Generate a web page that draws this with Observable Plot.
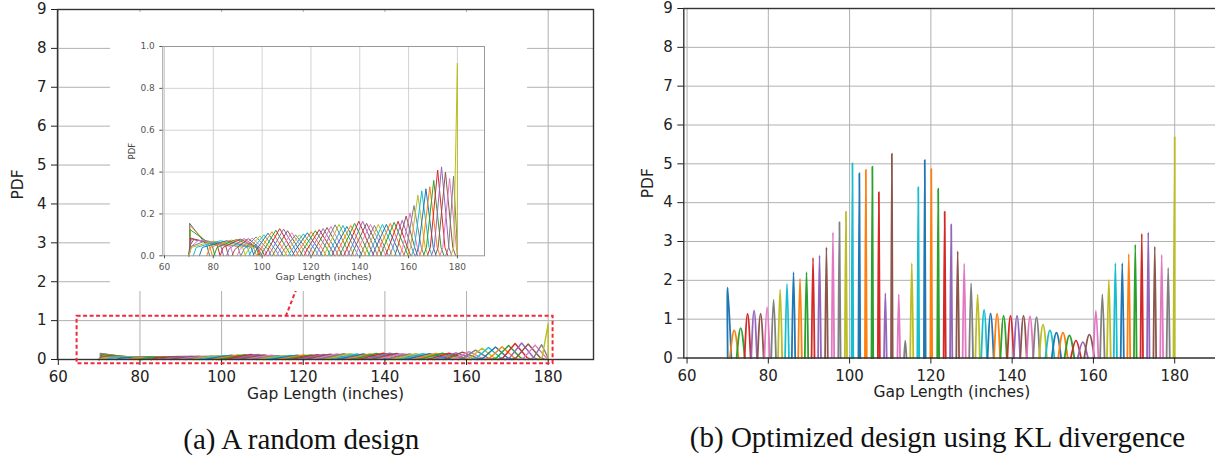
<!DOCTYPE html>
<html><head><meta charset="utf-8">
<script src="https://cdn.jsdelivr.net/npm/d3@7"></script>
<script src="https://cdn.jsdelivr.net/npm/@observablehq/plot@0.6"></script>
<style>
html,body{margin:0;padding:0;background:#fff;}
#fig{position:relative;width:1215px;height:458px;overflow:hidden;background:#fff;}
.panel{position:absolute;}
.panel svg{display:block;max-width:none;}
.cap{position:absolute;font-family:"Liberation Serif","Times New Roman",serif;font-size:29px;line-height:29px;white-space:nowrap;text-align:center;width:600px;color:#111;}
</style></head><body>
<div id="fig">
  <div class="panel" id="left" style="left:0;top:0;width:620px;height:420px"></div>
  <div class="panel" id="inset" style="left:110px;top:12px;width:417px;height:279px"></div>
  <div class="panel" id="right" style="left:620px;top:0;width:620px;height:420px"></div>
  <div class="cap" id="capA" style="left:1.3px;top:425.3px"></div>
  <div class="cap" id="capB" style="left:637.5px;top:422.7px"></div>
</div>
<script>
// ---------- text ----------
const xLabel = "Gap Length (inches)";
const yLabel = "PDF";
const captionA = "(a) A random design";
const captionB = "(b) Optimized design using KL divergence";

// ---------- ticks ----------
const xTicks = [60, 80, 100, 120, 140, 160, 180];
const yTicksMain = [0, 1, 2, 3, 4, 5, 6, 7, 8, 9];
const yTicksInset = [0, 0.2, 0.4, 0.6, 0.8, 1.0];

// support of the gap length
const support = [70, 180];

// ---------- (b) optimized design: peak positions, heights, half widths ----------
const centers = [70.0, 71.6, 73.2, 74.9, 76.5, 78.1, 79.7, 81.3, 82.9, 84.6,
  86.2, 87.8, 89.4, 91.0, 92.6, 94.3, 95.9, 97.5, 99.1, 100.7,
  102.4, 104.0, 105.6, 107.2, 108.8, 110.4, 112.1, 113.7, 115.3, 116.9,
  118.5, 120.1, 121.8, 123.4, 125.0, 126.6, 128.2, 129.9, 131.5, 133.1,
  134.7, 136.3, 137.9, 139.6, 141.2, 142.8, 144.4, 146.0, 147.6, 149.3,
  150.9, 152.5, 154.1, 155.7, 157.4, 159.0, 160.6, 162.2, 163.8, 165.4,
  167.1, 168.7, 170.3, 171.9, 173.5, 175.1, 176.8, 178.4, 180.0];
const optHeight = [1.81, 0.71, 0.77, 1.14, 1.22, 1.14, 1.31, 1.50, 1.76, 1.91,
  2.21, 2.04, 2.21, 2.58, 2.64, 2.85, 3.24, 3.50, 3.77, 5.02,
  4.76, 4.85, 4.93, 4.27, 1.67, 5.26, 1.64, 0.45, 2.44, 4.40,
  5.10, 4.87, 4.36, 3.77, 3.44, 2.75, 2.43, 1.93, 1.63, 1.24,
  1.15, 1.14, 1.09, 1.09, 1.09, 1.09, 1.07, 1.05, 0.86, 0.71,
  0.65, 0.65, 0.58, 0.45, 0.41, 0.60, 1.22, 1.64, 2.01, 2.44,
  2.44, 2.68, 2.92, 3.20, 3.24, 2.87, 2.66, 2.32, 5.69];
const optHalfWidth = [0.90, 1.05, 1.00, 0.75, 0.70, 0.75, 0.66, 0.58, 0.50, 0.47,
  0.41, 0.44, 0.41, 0.36, 0.35, 0.33, 0.30, 0.28, 0.26, 0.21,
  0.22, 0.22, 0.21, 0.24, 0.32, 0.20, 0.32, 0.30, 0.37, 0.23,
  0.21, 0.22, 0.23, 0.26, 0.28, 0.34, 0.38, 0.46, 0.54, 0.70,
  0.75, 0.75, 0.78, 0.78, 0.78, 0.78, 0.80, 0.81, 0.95, 1.10,
  1.15, 1.15, 1.20, 1.25, 1.25, 1.25, 0.62, 0.54, 0.45, 0.38,
  0.38, 0.35, 0.32, 0.30, 0.30, 0.33, 0.35, 0.39, 0.30];

// ---------- (a) random design: peak position, height, spans, floor ----------
const randPeakX = [70.3, 70.4, 70.5, 70.6, 71.0, 72.0, 74.0, 77.0, 80.0, 83.0,
  85.5, 87.5, 89.5, 91.0, 92.6, 94.3, 95.9, 97.5, 99.1, 100.7,
  102.4, 104.0, 105.6, 107.2, 108.8, 110.4, 112.1, 113.7, 115.3, 116.9,
  118.5, 120.1, 121.8, 123.4, 125.0, 126.6, 128.2, 129.9, 131.5, 133.1,
  134.7, 136.3, 137.9, 139.6, 141.2, 142.8, 144.4, 146.0, 147.6, 149.3,
  150.9, 152.5, 154.1, 155.7, 157.4, 159.0, 160.6, 162.2, 163.8, 165.4,
  167.1, 168.7, 170.3, 171.9, 173.5, 175.1, 176.8, 178.4, 180.0];
const randPeakY = [0.155, 0.145, 0.125, 0.085, 0.080, 0.078, 0.075, 0.072, 0.070, 0.072,
  0.072, 0.075, 0.078, 0.080, 0.082, 0.082, 0.085, 0.090, 0.095, 0.100,
  0.108, 0.115, 0.122, 0.130, 0.128, 0.120, 0.110, 0.100, 0.100, 0.105,
  0.110, 0.115, 0.120, 0.125, 0.130, 0.135, 0.140, 0.148, 0.150, 0.145,
  0.140, 0.145, 0.155, 0.165, 0.165, 0.155, 0.150, 0.145, 0.150, 0.150,
  0.150, 0.155, 0.160, 0.165, 0.170, 0.190, 0.205, 0.240, 0.290, 0.310,
  0.320, 0.330, 0.360, 0.410, 0.425, 0.400, 0.370, 0.380, 0.920];
const randSpanL = [0, 0, 0, 0, 0.5, 1.5, 3, 6, 9, 10,
  10, 9, 8, 7, 6, 5.5, 5, 5, 5, 5,
  5, 5, 5, 5, 5, 5, 5, 5, 5, 5,
  5, 5, 5, 5, 5, 5, 5, 5, 5, 5,
  5, 5, 5, 5, 5, 5, 5, 4.5, 4.5, 4.5,
  4.5, 4.5, 4.5, 4, 4, 3.5, 3, 3, 3, 3,
  3, 3, 3, 3, 3, 3, 2.8, 2, 1.5];
const randSpanR = [7, 8, 9, 11, 12, 13, 13, 13, 12, 11,
  10, 9, 8, 7, 6, 5.5, 5, 5, 5, 5,
  5, 5, 5, 5, 5, 5, 5, 5, 5, 5,
  5, 5, 5, 5, 5, 5, 5, 5, 5, 5,
  5, 5, 5, 5, 5, 5, 5, 4.5, 4.5, 4.5,
  4.5, 4.5, 4.5, 4, 4, 3.5, 3, 3, 3, 3,
  3, 3, 3, 3, 3, 3, 2.8, 1.6, 0];
const randFloor = [0.05, 0.05, 0.05, 0.05, 0.05, 0.05, 0.045, 0.045, 0.04, 0.04,
  0.04, 0.04, 0.04, 0.04, 0.035, 0.03, 0.03, 0.03, 0.025, 0.025,
  0.025, 0.025, 0.025, 0.025, 0.025, 0.025, 0.025, 0.025, 0.025, 0.025,
  0.025, 0.025, 0.03, 0.03, 0.03, 0.03, 0.03, 0.03, 0.03, 0.03,
  0.03, 0.03, 0.03, 0.03, 0.03, 0.035, 0.035, 0.035, 0.035, 0.035,
  0.035, 0.035, 0.035, 0.035, 0.035, 0.04, 0.04, 0.04, 0.04, 0.04,
  0.04, 0.04, 0.04, 0.04, 0.04, 0.04, 0.04, 0.04, 0.04];
const floorDrop = 1.2;

// zoom box and its connector (in main-plot data units)
const zoomBox = [{x1: 64.6, x2: 181.2, y1: -0.11, y2: 1.11}];
const connector = [{x1: 115.7, y1: 1.11, x2: 118.4, y2: 1.83}];

// ---------- build tables ----------
const clampX = x => Math.max(support[0], Math.min(support[1], x));
const ids = d3.range(centers.length);
const optRows = centers.flatMap((c, i) => {
  const w = optHalfWidth[i], h = optHeight[i];
  return [[c - w, 0], [c, h], [c + w, 0]].map(([x, y]) => ({id: i, x: clampX(x), y}));
});
const randRows = randPeakX.flatMap((c, i) => {
  const h = randPeakY[i], f = randFloor[i], l = randSpanL[i], r = randSpanR[i];
  return [[c - l - floorDrop, 0], [c - l, f], [c, h], [c + r, f], [c + r + floorDrop, 0]]
    .map(([x, y]) => ({id: i, x: clampX(x), y}));
});

const colorScale = {type: "ordinal", domain: ids, range: d3.schemeCategory10};
const baseStyle = {fontFamily: "DejaVu Sans", fontSize: "15px", background: "transparent", overflow: "visible", maxWidth: "none", color: "#222"};
const gridStyle = {stroke: "#b0b0b0", strokeOpacity: 1, strokeWidth: 1};

// ---------- (a) main ----------
const left = Plot.plot({
  width: 620, height: 420,
  marginLeft: 57, marginRight: 27, marginTop: 9, marginBottom: 61,
  x: {domain: [59.8, 191.1], label: null},
  y: {domain: [0, 9], label: null},
  color: colorScale,
  style: baseStyle,
  marks: [
    Plot.gridX({ticks: xTicks, ...gridStyle}),
    Plot.gridY({ticks: yTicksMain, ...gridStyle}),
    Plot.line(randRows, {x: "x", y: "y", z: "id", stroke: "id", strokeWidth: 1.4}),
    Plot.frame({stroke: "#333", strokeWidth: 1.4}),
    Plot.axisX({ticks: xTicks, tickSize: 6, tickPadding: 6, fontSize: 15, label: null, color: "#222"}),
    Plot.axisY({ticks: yTicksMain, tickSize: 6, tickPadding: 5, fontSize: 15, label: null, color: "#222"}),
    Plot.rect(zoomBox, {x1: "x1", x2: "x2", y1: "y1", y2: "y2", fill: "none", stroke: "#ee2a3c", strokeWidth: 2, strokeDasharray: "4,2.5"}),
    Plot.link(connector, {x1: "x1", y1: "y1", x2: "x2", y2: "y2", stroke: "#ee2a3c", strokeWidth: 2, strokeDasharray: "4,2.5"}),
    Plot.text([xLabel], {frameAnchor: "bottom", dy: 39, textAnchor: "middle", fontSize: 15.5, fill: "#222"}),
    Plot.text([yLabel], {frameAnchor: "left", dx: -39, rotate: -90, textAnchor: "middle", fontSize: 15.5, fill: "#222"})
  ]
});
document.getElementById("left").append(left);

// ---------- (a) inset ----------
const inset = Plot.plot({
  width: 417, height: 279,
  marginLeft: 52.3, marginRight: 43, marginTop: 34, marginBottom: 35.7,
  x: {domain: [59.3, 191.1], label: null},
  y: {domain: [0, 1], label: null},
  color: colorScale,
  style: {...baseStyle, background: "white", fontSize: "9px", color: "#444"},
  marks: [
    Plot.gridX({ticks: xTicks, stroke: "#c8c8c8", strokeOpacity: 1, strokeWidth: 0.8}),
    Plot.gridY({ticks: yTicksInset.slice(1, 5), stroke: "#c8c8c8", strokeOpacity: 1, strokeWidth: 0.8}),
    Plot.line(randRows, {x: "x", y: "y", z: "id", stroke: "id", strokeWidth: 1}),
    Plot.frame({stroke: "#999", strokeWidth: 1}),
    Plot.axisX({ticks: xTicks, tickSize: 3, tickPadding: 5, fontSize: 9, label: null, color: "#555"}),
    Plot.axisY({ticks: yTicksInset, tickFormat: d3.format(".1f"), tickSize: 3, tickPadding: 5, fontSize: 9, label: null, color: "#555"}),
    Plot.text([xLabel], {frameAnchor: "bottom", dy: 23.7, textAnchor: "middle", fontSize: 9.5, fill: "#444"}),
    Plot.text([yLabel], {frameAnchor: "left", dx: -31, rotate: -90, textAnchor: "middle", fontSize: 8.5, fill: "#444"})
  ]
});
document.getElementById("inset").append(inset);

// ---------- (b) ----------
const right = Plot.plot({
  width: 620, height: 420,
  marginLeft: 63.3, marginRight: 20.7, marginTop: 8, marginBottom: 62.5,
  x: {domain: [59.2, 191.1], label: null},
  y: {domain: [0, 9], label: null},
  color: colorScale,
  style: baseStyle,
  marks: [
    Plot.gridX({ticks: xTicks, ...gridStyle}),
    Plot.gridY({ticks: yTicksMain, ...gridStyle}),
    Plot.line(optRows, {x: "x", y: "y", z: "id", stroke: "id", strokeWidth: 1.8, curve: "natural"}),
    Plot.frame({stroke: "#333", strokeWidth: 1.4}),
    Plot.axisX({ticks: xTicks, tickSize: 6, tickPadding: 6, fontSize: 15, label: null, color: "#222"}),
    Plot.axisY({ticks: yTicksMain, tickSize: 6, tickPadding: 5, fontSize: 15, label: null, color: "#222"}),
    Plot.text([xLabel], {frameAnchor: "bottom", dy: 39, textAnchor: "middle", fontSize: 15.5, fill: "#222"}),
    Plot.text([yLabel], {frameAnchor: "left", dx: -36, rotate: -90, textAnchor: "middle", fontSize: 15.5, fill: "#222"})
  ]
});
document.getElementById("right").append(right);

document.getElementById("capA").textContent = captionA;
document.getElementById("capB").textContent = captionB;
</script>
</body></html>
